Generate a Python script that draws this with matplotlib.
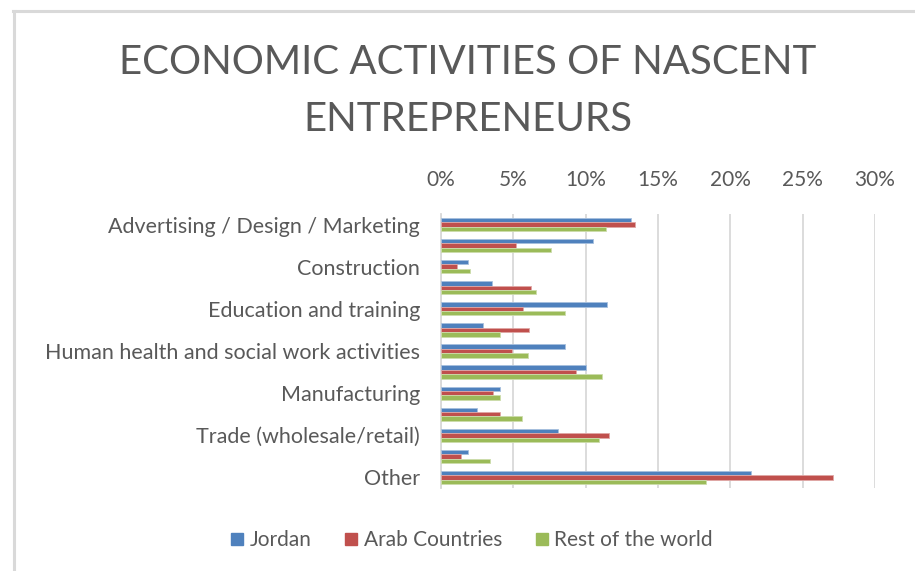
import numpy as np
import matplotlib.pyplot as plt
from matplotlib.lines import Line2D

# share of nascent entrepreneurs by economic activity (%)
labels = ['Advertising / Design / Marketing', '', 'Construction', '',
          'Education and training', '', 'Human health and social work activities', '',
          'Manufacturing', '', 'Trade (wholesale/retail)', '', 'Other']
jordan = [13.1, 10.5, 1.9, 3.5, 11.5, 2.9, 8.6, 10.0, 4.1, 2.5, 8.1, 1.9, 21.4]
arab = [13.4, 5.2, 1.1, 6.2, 5.7, 6.1, 4.9, 9.3, 3.6, 4.1, 11.6, 1.4, 27.1]
world = [11.4, 7.6, 2.0, 6.6, 8.6, 4.1, 6.0, 11.1, 4.1, 5.6, 10.9, 3.4, 18.3]
series_names = ['Jordan', 'Arab Countries', 'Rest of the world']
xticks = [0, 5, 10, 15, 20, 25, 30]

colors = ['#4F81BD', '#C0504D', '#9BBB59']
edges = ['#A7C0DE', '#DFA7A6', '#CDDDAC']
text_col = '#595959'
font = 'Lato'

fig = plt.figure(figsize=(9.15, 5.71), dpi=100)
fig.patch.set_facecolor('white')

# chart border (only top and left visible)
fig.add_artist(Line2D([14 / 915, 14 / 915], [0, 1 - 11 / 571], color='#D9D9D9', lw=2.2,
                      transform=fig.transFigure))
fig.add_artist(Line2D([13 / 915, 1], [1 - 11 / 571, 1 - 11 / 571], color='#D9D9D9', lw=2.2,
                      transform=fig.transFigure))

ax = fig.add_axes([441 / 915, 1 - 488 / 571, (875 - 441) / 915, (488 - 214) / 571])

y = np.arange(len(labels))
h = 0.21
for i, vals in enumerate([jordan, arab, world]):
    ax.barh(y + (i - 1) * h, vals, height=h, color=colors[i], edgecolor=edges[i],
            linewidth=0.6, zorder=3)

ax.set_xlim(0, 30)
ax.set_ylim(len(labels) - 0.5, -0.5)
ax.set_xticks(xticks)
ax.set_xticklabels([f'{v}%' for v in xticks], fontsize=15, color=text_col, family=font)
ax.xaxis.tick_top()
ax.tick_params(axis='x', length=0, pad=17)
ax.set_yticks(y)
ax.set_yticklabels(labels, fontsize=15.5, color=text_col, family=font)
ax.tick_params(axis='y', length=0, pad=15)
ax.grid(axis='x', color='#D9D9D9', lw=1.3, zorder=0)
for s in ['top', 'right', 'bottom']:
    ax.spines[s].set_visible(False)
ax.spines['left'].set_color('#D9D9D9')
ax.spines['left'].set_linewidth(1.3)

fig.text(468 / 915, 1 - 63 / 571, 'ECONOMIC ACTIVITIES OF NASCENT', ha='center', va='center',
         fontsize=29, color=text_col, family=font)
fig.text(468 / 915, 1 - 120 / 571, 'ENTREPRENEURS', ha='center', va='center',
         fontsize=29, color=text_col, family=font)

handles = [Line2D([], [], marker='s', linestyle='', markersize=9, color=c) for c in colors]
fig.legend(handles, series_names, loc='center', bbox_to_anchor=(472 / 915, 1 - 540 / 571),
           ncol=3, frameon=False, prop={'family': font, 'size': 15}, labelcolor=text_col,
           handlelength=0.6, handletextpad=0.3, columnspacing=1.6)

fig.savefig('out.png', dpi=100)
